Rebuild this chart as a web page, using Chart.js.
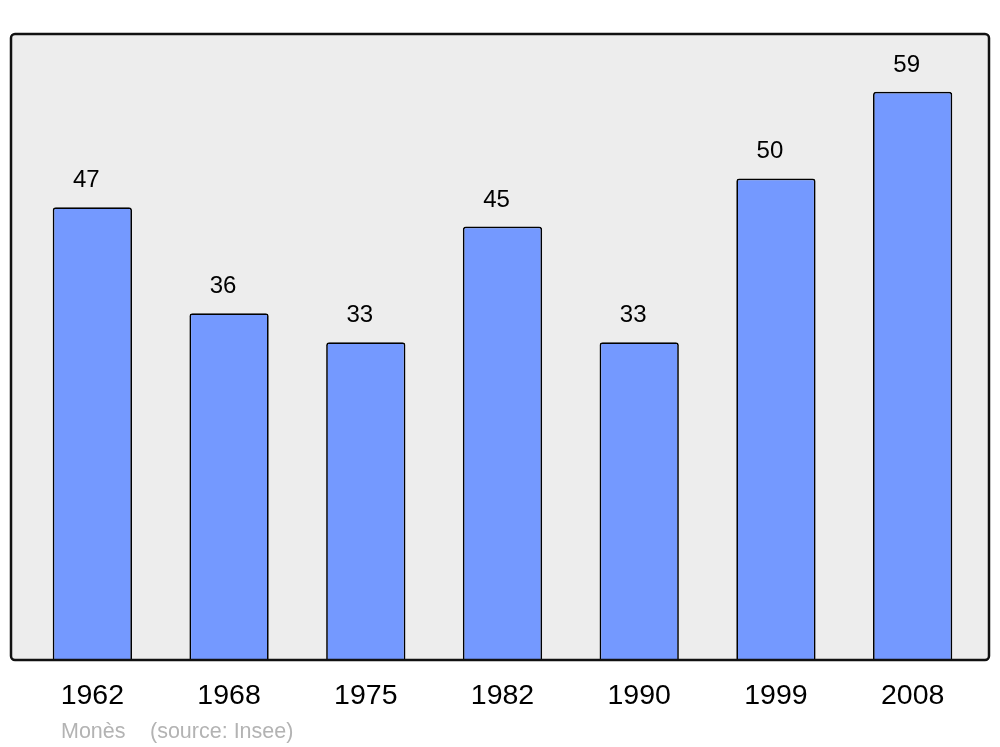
<!DOCTYPE html>
<html>
<head>
<meta charset="utf-8">
<script src="https://cdn.jsdelivr.net/npm/chart.js@4.4.0/dist/chart.umd.min.js"></script>
<style>
  html, body { margin: 0; padding: 0; background: #ffffff; }
  #wrap { width: 1000px; height: 747px; }
</style>
</head>
<body>
<div id="wrap"><canvas id="popChart" width="1000" height="747"></canvas></div>
<script>
// données
const annees = ["1962", "1968", "1975", "1982", "1990", "1999", "2008"];
const population = [47, 36, 33, 45, 33, 50, 59];
const commune = "Monès";
const source = "(source: Insee)";

const police = "'Liberation Sans', Arial, sans-serif";

// fond gris + cadre noir
const cadre = {
    id: "cadre",
    beforeDraw(chart) {
        const c = chart.ctx;
        c.save();
        c.fillStyle = "#ededed";
        c.beginPath();
        c.roundRect(11, 34, 978, 626, 4);
        c.fill();
        c.restore();
    },
    afterDatasetsDraw(chart) {
        const c = chart.ctx;
        c.save();
        c.strokeStyle = "#111111";
        c.lineWidth = 2.5;
        c.beginPath();
        c.roundRect(11, 34, 978, 626, 4);
        c.stroke();

        // valeurs au-dessus des barres
        c.fillStyle = "#000000";
        c.font = "24px " + police;
        c.textAlign = "center";
        c.textBaseline = "alphabetic";
        chart.getDatasetMeta(0).data.forEach((bar, i) => {
            c.fillText(String(population[i]), bar.x - 6, bar.y - 20);
        });

        // pied
        c.fillStyle = "#b3b3b3";
        c.font = "21.5px " + police;
        c.textAlign = "left";
        c.fillText(commune, 61, 738);
        c.fillText(source, 150, 738);
        c.restore();
    }
};

const ctx = document.getElementById("popChart").getContext("2d");
const popChart = new Chart(ctx, {
    type: "bar",
    data: {
        labels: annees,
        datasets: [{
            data: population,
            backgroundColor: "#7499ff",
            borderColor: "#000000",
            borderWidth: 1.7,
            borderRadius: { topLeft: 3, topRight: 3 },
            borderSkipped: "bottom",
            barPercentage: 0.58,
            categoryPercentage: 1
        }]
    },
    options: {
        responsive: false,
        animation: false,
        layout: { padding: { left: 24, right: 19, top: 34, bottom: 0 } },
        plugins: { legend: { display: false }, tooltip: { enabled: false } },
        scales: {
            x: {
                grid: { display: false, drawTicks: false },
                border: { display: false },
                ticks: { color: "#000000", font: { family: police, size: 28.5 }, padding: 19, maxRotation: 0 },
                afterFit: (scale) => { scale.height = 87; }
            },
            y: {
                display: false,
                min: 0,
                max: 65
            }
        }
    },
    plugins: [cadre]
});
</script>
</body>
</html>
